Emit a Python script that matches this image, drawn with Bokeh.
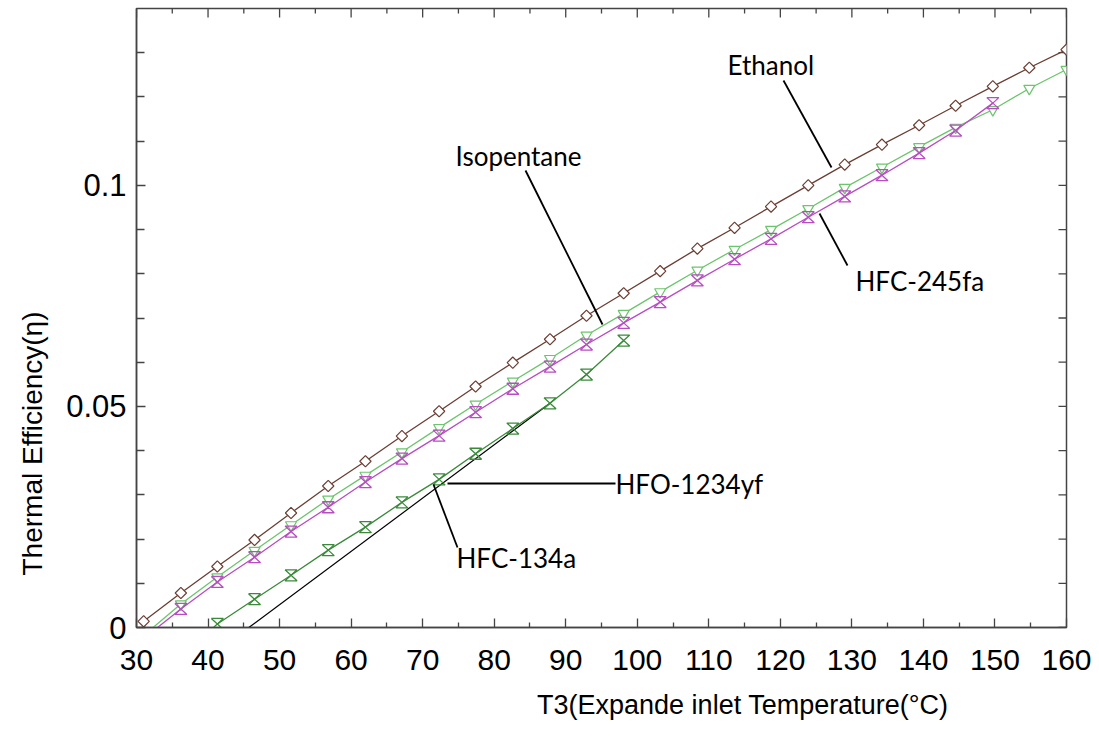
import numpy as np
from bokeh.plotting import figure
from bokeh.models import Range1d, LinearAxis, FixedTicker, Label, NumeralTickFormatter, Title
from bokeh.embed import file_html
from bokeh.resources import INLINE

# ---------------- data ----------------
temps = [31.0, 36.2, 41.3, 46.5, 51.6, 56.8, 62.0, 67.1, 72.3, 77.4, 82.6, 87.8, 92.9,
         98.1, 103.2, 108.4, 113.6, 118.7, 123.9, 129.0, 134.2, 139.4, 144.5, 149.7, 154.8, 160.0]

ethanol = [0.0014, 0.0078, 0.0138, 0.0198, 0.0259, 0.0320, 0.0376, 0.0433, 0.0489, 0.0545,
           0.0599, 0.0652, 0.0705, 0.0756, 0.0806, 0.0857, 0.0904, 0.0952, 0.1000, 0.1047,
           0.1092, 0.1136, 0.1180, 0.1224, 0.1266, 0.1307]

isopentane = [-0.0018, 0.0053, 0.0114, 0.0174, 0.0232, 0.0290, 0.0344, 0.0397, 0.0452, 0.0505,
              0.0557, 0.0608, 0.0661, 0.0710, 0.0759, 0.0808, 0.0855, 0.0900, 0.0947, 0.0995,
              0.1041, 0.1087, 0.1131, 0.1171, 0.1219, 0.1262]

hfc245fa_t = temps[:24]
hfc245fa = [-0.0025, 0.0042, 0.0103, 0.0159, 0.0217, 0.0272, 0.0329, 0.0382, 0.0434, 0.0487,
            0.0540, 0.0590, 0.0640, 0.0689, 0.0736, 0.0785, 0.0833, 0.0879, 0.0928, 0.0975,
            0.1023, 0.1073, 0.1124, 0.1186]

hfc134a_t = temps[2:14]
hfc134a = [0.0008, 0.0064, 0.0118, 0.0175, 0.0227, 0.0283, 0.0335, 0.0393, 0.0450, 0.0507,
           0.0572, 0.0649]

hfo1234yf_t = [45.7, 87.8]
hfo1234yf = [0.0, 0.0507]

x_major = [30, 40, 50, 60, 70, 80, 90, 100, 110, 120, 130, 140, 150, 160]
x_minor = [35, 45, 55, 65, 75, 85, 95, 105, 115, 125, 135, 145, 155]
y_major = [0, 0.05, 0.1]
y_minor = [0.01, 0.02, 0.03, 0.04, 0.06, 0.07, 0.08, 0.09, 0.11, 0.12, 0.13]

x_title = "T3(Expande inlet Temperature(°C)"
y_title = "Thermal Efficiency(η)"

# ---------------- layout ----------------
W, H = 1099, 736
BL, BR, BT, BB = 136, 33, 8, 109
X0, X1, Y0, Y1 = 30, 160, 0, 0.14
FW, FH = W - BL - BR, H - BT - BB
sx = FW / (X1 - X0)
sy = FH / (Y1 - Y0)


def px(xp, yp):
    """Convert a canvas pixel position to data coordinates (for annotations)."""
    return X0 + (xp - BL) / sx, Y0 + (BT + FH - yp) / sy


p = figure(width=W, height=H, x_range=Range1d(X0, X1), y_range=Range1d(Y0, Y1),
           output_backend="svg", toolbar_location=None,
           x_axis_location=None, y_axis_location=None,
           min_border_left=BL, min_border_right=BR, min_border_top=BT, min_border_bottom=BB)
p.xgrid.visible = False
p.ygrid.visible = False
p.background_fill_color = "white"
p.border_fill_color = "white"
p.outline_line_color = "#444444"
p.outline_line_width = 1.5

AX_COL = "#444444"


def make_axis(major, minor, tin, mtin):
    ax = LinearAxis(ticker=FixedTicker(ticks=major, minor_ticks=minor))
    ax.axis_line_color = AX_COL
    ax.axis_line_width = 1.5
    ax.major_tick_line_color = AX_COL
    ax.minor_tick_line_color = AX_COL
    ax.major_tick_line_width = 1.3
    ax.minor_tick_line_width = 1.3
    ax.major_tick_in = tin
    ax.major_tick_out = 0
    ax.minor_tick_in = mtin
    ax.minor_tick_out = 0
    ax.major_label_text_font = "Liberation Sans"
    ax.major_label_text_font_size = "30px"
    ax.major_label_text_color = "black"
    return ax


xb = make_axis(x_major, x_minor, 9, 5)
xb.formatter = NumeralTickFormatter(format="0")
xb.major_label_standoff = 22
p.add_layout(xb, "below")

yl = make_axis(y_major, y_minor, 9, 8)
yl.formatter = NumeralTickFormatter(format="0.[00]")
yl.major_label_text_font_size = "31px"
yl.major_label_standoff = 10
p.add_layout(yl, "left")

# inward ticks on the top and right edges of the frame
tick_len_major, tick_len_minor = 9, 5
p.segment(x_major, [Y1] * len(x_major), x_major, [Y1 - tick_len_major / sy] * len(x_major),
          line_color=AX_COL, line_width=1.3)
p.segment(x_minor, [Y1] * len(x_minor), x_minor, [Y1 - tick_len_minor / sy] * len(x_minor),
          line_color=AX_COL, line_width=1.3)
y_all = y_major + y_minor
p.segment([X1] * len(y_all), y_all, [X1 - 8 / sx] * len(y_all), y_all,
          line_color=AX_COL, line_width=1.3)

# ---------------- series ----------------
ETH = "#6b3e33"
ISO = "#6cc46c"
F245 = "#b84cc2"
F134 = "#3a8a3a"

p.line(temps, ethanol, line_color=ETH, line_width=1.3)
p.scatter(temps, ethanol, marker="square", angle=np.pi / 4, size=8,
          line_color=ETH, fill_color="white", line_width=1.2)

p.line(hfo1234yf_t, hfo1234yf, line_color="black", line_width=1.2)

p.line(temps, isopentane, line_color=ISO, line_width=1.3)
p.scatter(temps, isopentane, marker="inverted_triangle", size=11,
          line_color=ISO, fill_color="white", line_width=1.2)


def hourglass(xs, ys, hw=6.0, hh=5.5):
    dx, dy = hw / sx, hh / sy
    gx, gy = [], []
    for x, y in zip(xs, ys):
        gx.append([x - dx, x + dx, x - dx, x + dx, x - dx])
        gy.append([y + dy, y + dy, y - dy, y - dy, y + dy])
    return gx, gy


p.line(hfc245fa_t, hfc245fa, line_color=F245, line_width=1.3)
gx, gy = hourglass(hfc245fa_t, hfc245fa)
p.multi_line(gx, gy, line_color=F245, line_width=1.3)

p.line(hfc134a_t, hfc134a, line_color=F134, line_width=1.3)
gx, gy = hourglass(hfc134a_t, hfc134a)
p.multi_line(gx, gy, line_color=F134, line_width=1.3)

# ---------------- annotations ----------------
leaders = [((783, 80), (831, 167)),    # Ethanol
           ((525, 170), (602, 324)),   # Isopentane
           ((819, 213), (847, 265)),   # HFC-245fa
           ((447, 483), (615, 483)),   # HFO-1234yf
           ((433, 484), (457, 547))]   # HFC-134a
x0s, y0s, x1s, y1s = [], [], [], []
for a, b in leaders:
    xa, ya = px(*a)
    xb_, yb_ = px(*b)
    x0s.append(xa); y0s.append(ya); x1s.append(xb_); y1s.append(yb_)
p.segment(x0s, y0s, x1s, y1s, line_color="black", line_width=1.8)

series_labels = [("Ethanol", (727, 64)), ("Isopentane", (455, 155)), ("HFC-245fa", (855, 280)),
                 ("HFO-1234yf", (615, 483)), ("HFC-134a", (456, 557))]
for txt, pos in series_labels:
    lx, ly = px(*pos)
    p.add_layout(Label(x=lx, y=ly, text=txt, text_font="Lato", text_font_size="26px",
                       text_color="black", text_align="left", text_baseline="middle"))

# axis titles as side titles so they can sit off-centre like the reference
xt = Title(text=x_title, align="right", offset=118, text_font="Liberation Sans",
           text_font_size="27px", text_font_style="normal", text_color="black", standoff=30)
p.add_layout(xt, "below")
yt = Title(text=y_title, align="left", offset=52, vertical_align="top", text_font="Liberation Sans",
           text_font_size="28px", text_font_style="normal", text_color="black", standoff=27)
p.add_layout(yt, "left")

open("out.html", "w").write(file_html(p, INLINE))
